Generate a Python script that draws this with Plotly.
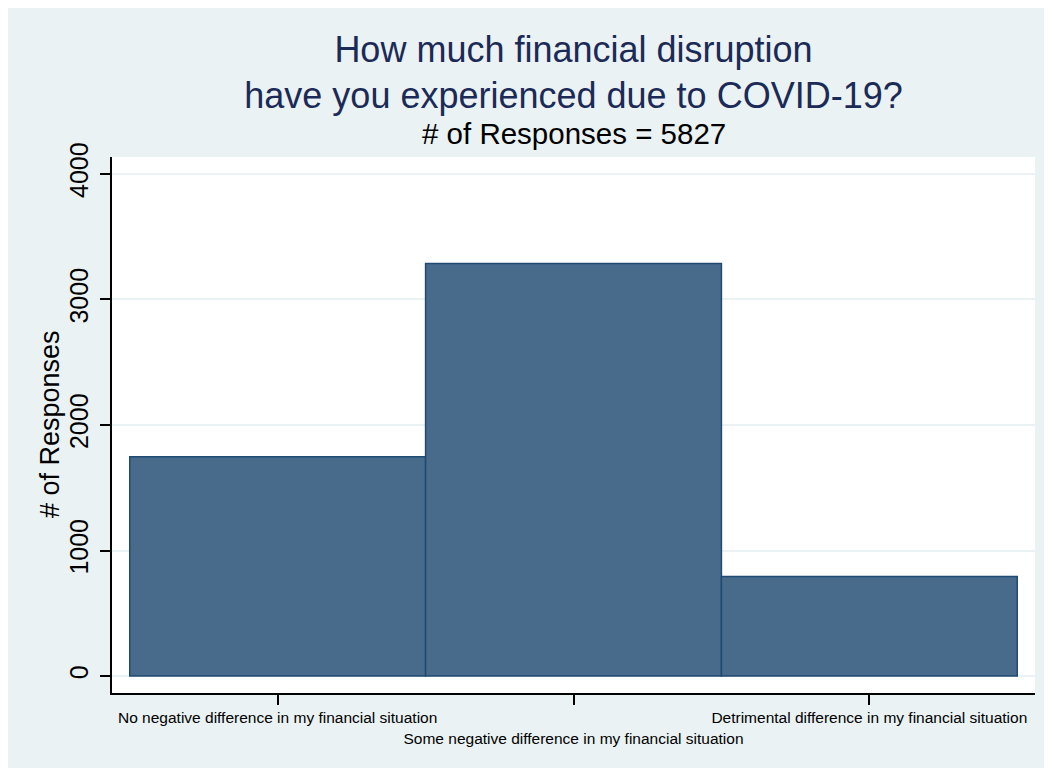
import plotly.graph_objects as go

categories = [
    "No negative difference in my financial situation",
    "Some negative difference in my financial situation",
    "Detrimental difference in my financial situation",
]
positions = [1, 2, 3]
counts = [1747, 3286, 794]
y_ticks = [0, 1000, 2000, 3000, 4000]
total = sum(counts)

tick_text = [c if i % 2 == 0 else "<br>" + c for i, c in enumerate(categories)]

FONT = "Liberation Sans, Arial, sans-serif"
BG = "#EAF2F3"

L, R, T, B = 104, 25, 149, 83
W, H = 1052, 768
plot_h = H - T - B
plot_w = W - L - R

fig = go.Figure(
    go.Bar(
        x=positions,
        y=counts,
        width=1,
        marker=dict(color="#486B8C", line=dict(color="#1F4A72", width=1.5)),
        hoverinfo="y",
    )
)

fig.update_layout(
    width=W,
    height=H,
    paper_bgcolor=BG,
    plot_bgcolor="white",
    margin=dict(l=L, r=R, t=T, b=B),
    showlegend=False,
    font=dict(family=FONT, color="black"),
    title=dict(
        text="How much financial disruption<br>have you experienced due to COVID-19?",
        x=0.5,
        xref="paper",
        xanchor="center",
        y=1 - 53.5 / H,
        yref="container",
        yanchor="middle",
        font=dict(size=36, color="#1B2A57", family=FONT),
    ),
    annotations=[
        dict(
            text=f"# of Responses = {total}",
            x=0.5,
            xref="paper",
            y=(H - B - 125) / plot_h,
            yref="paper",
            xanchor="center",
            yanchor="middle",
            showarrow=False,
            font=dict(size=29.5, color="black", family=FONT),
        ),
        dict(
            text="# of Responses",
            textangle=-90,
            x=(42 - L) / plot_w,
            xref="paper",
            y=(H - B - 416) / plot_h,
            yref="paper",
            xanchor="center",
            yanchor="middle",
            showarrow=False,
            font=dict(size=27, color="black", family=FONT),
        ),
    ],
)

fig.update_xaxes(
    range=[0.44, 3.56],
    tickvals=positions,
    ticktext=tick_text,
    tickangle=0,
    automargin=False,
    ticks="outside",
    ticklen=10,
    tickwidth=1.5,
    tickcolor="black",
    showline=True,
    linecolor="black",
    linewidth=1.5,
    showgrid=False,
    zeroline=False,
    tickfont=dict(size=15.5, color="black", family=FONT),
)

fig.update_yaxes(
    range=[-135, 4135],
    tickvals=y_ticks,
    ticktext=[str(v) for v in y_ticks],
    tickangle=-90,
    automargin=False,
    ticklabelstandoff=2,
    ticks="outside",
    ticklen=10,
    tickwidth=1.5,
    tickcolor="black",
    showline=True,
    linecolor="black",
    linewidth=1.5,
    showgrid=True,
    gridcolor=BG,
    gridwidth=2,
    zeroline=False,
    tickfont=dict(size=25, color="black", family=FONT),
)

fig.write_html("out.html")
